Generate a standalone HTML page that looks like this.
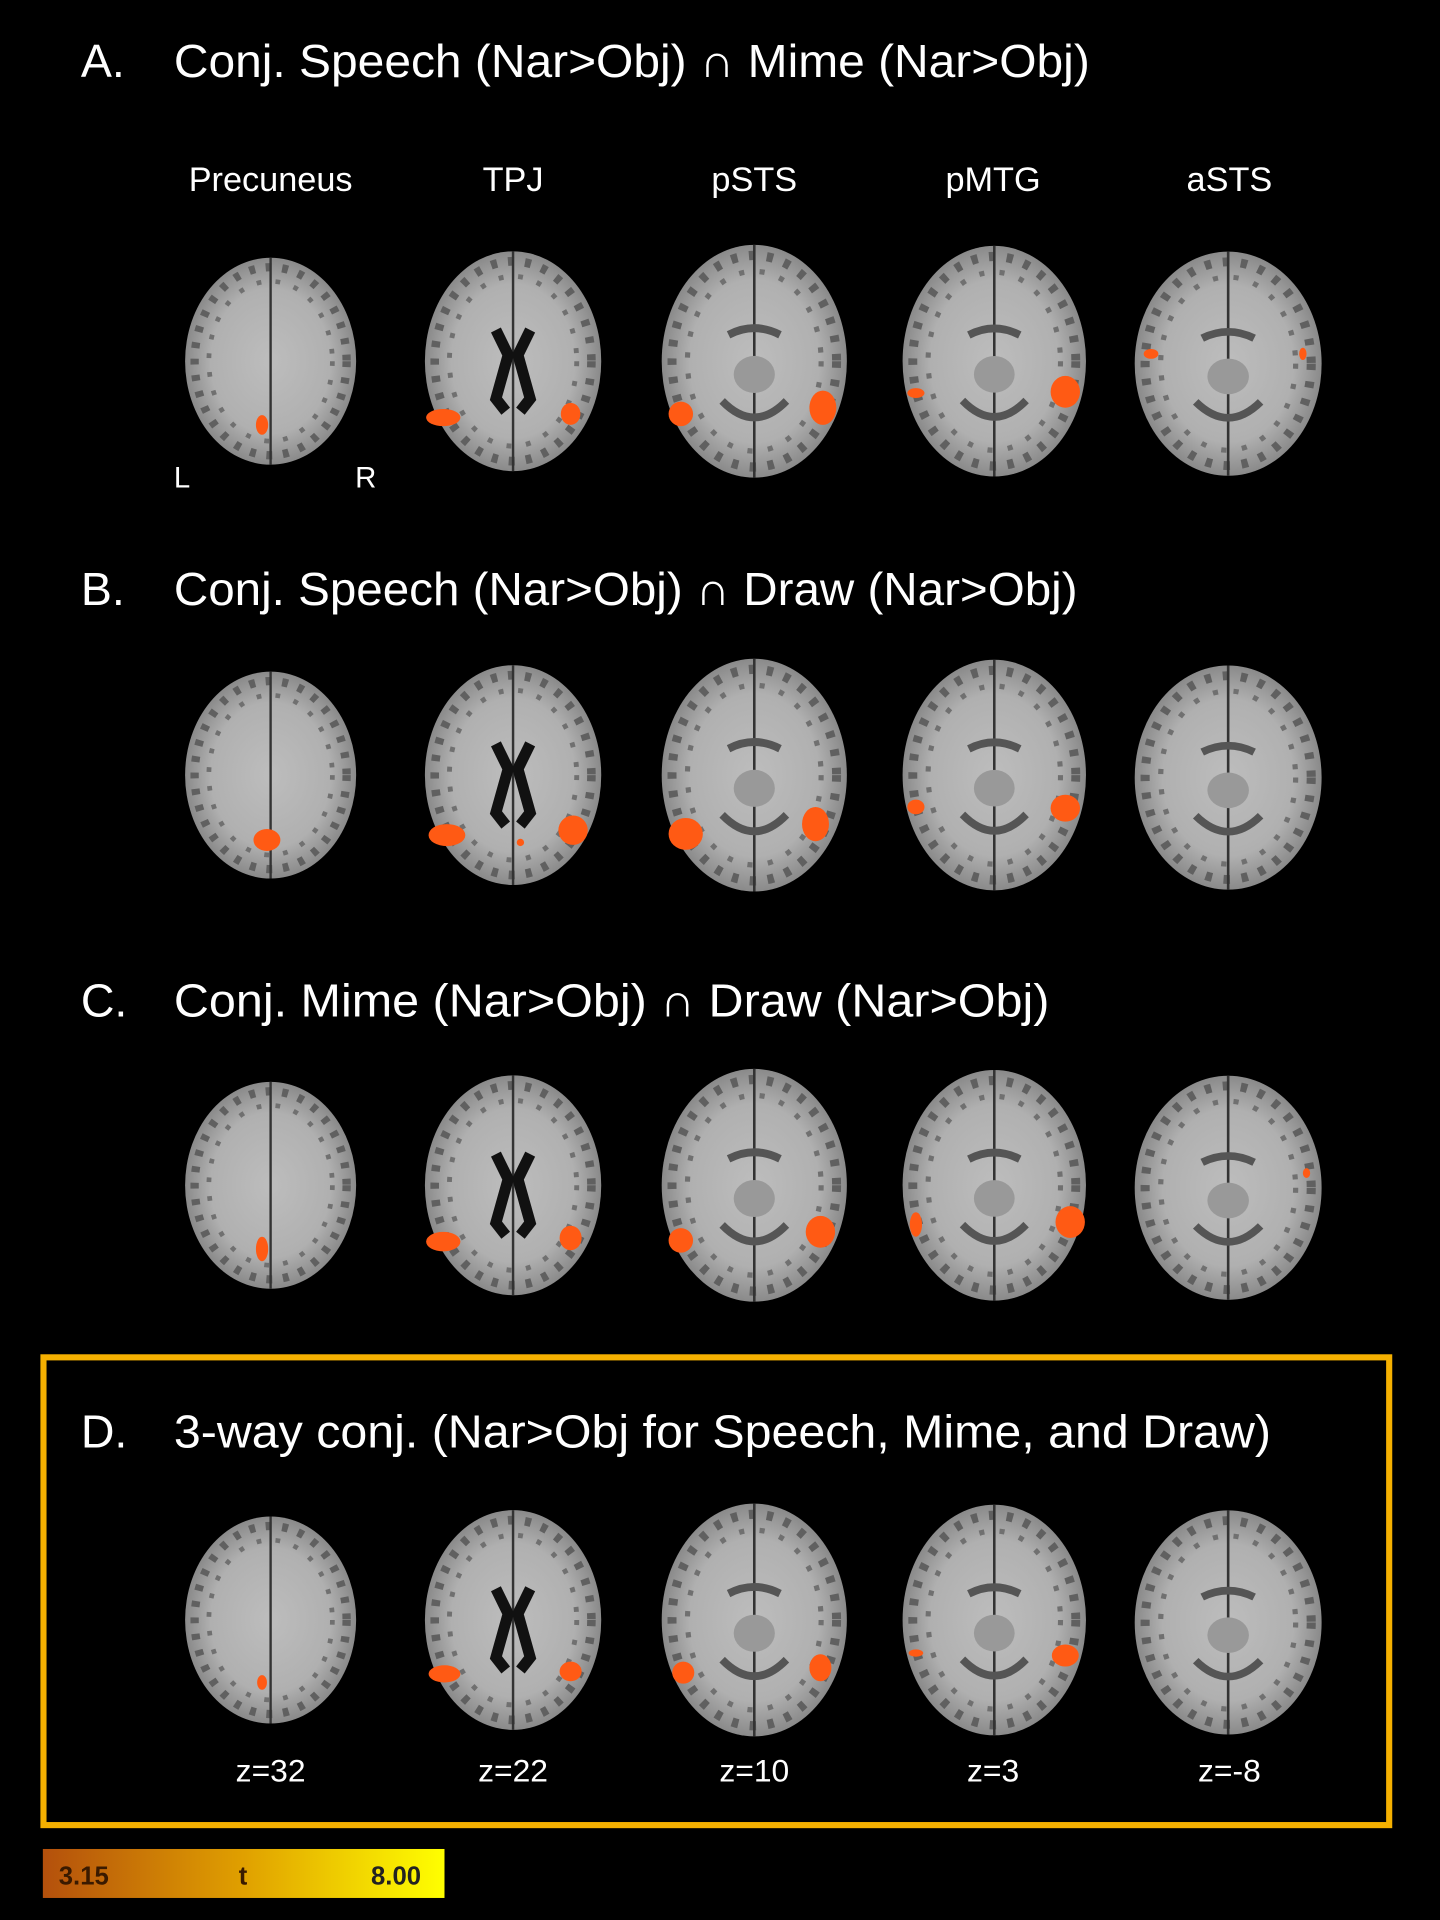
<!DOCTYPE html>
<html><head><meta charset="utf-8"><style>
html,body{margin:0;padding:0;background:#000;}
svg{display:block;}
text{font-family:"Liberation Sans","DejaVu Sans",sans-serif;fill:#fff;}
</style></head><body>
<svg width="1440" height="1920" viewBox="0 0 1176 1568" xmlns="http://www.w3.org/2000/svg">
<defs>
<radialGradient id="bg" cx="50%" cy="50%" r="50%">
<stop offset="0" stop-color="#bdbdbd"/><stop offset="0.7" stop-color="#b0b0b0"/><stop offset="1" stop-color="#8a8a8a"/>
</radialGradient>
<linearGradient id="cb" x1="0" x2="1" y1="0" y2="0">
<stop offset="0" stop-color="#b4500c"/><stop offset="0.5" stop-color="#e0a000"/><stop offset="1" stop-color="#ffff00"/>
</linearGradient>
<g id="brain">
<ellipse cx="0" cy="0" rx="72" ry="88" fill="url(#bg)"/>
<ellipse cx="0" cy="0" rx="64" ry="80" fill="none" stroke="#606060" stroke-width="7" stroke-dasharray="5 9"/>
<ellipse cx="0" cy="0" rx="52" ry="68" fill="none" stroke="#707070" stroke-width="4" stroke-dasharray="4 12"/>
<line x1="0" y1="-88" x2="0" y2="88" stroke="#333" stroke-width="2"/>
</g>
<g id="vent"><path d="M-14,-25 L-4,-5 L-14,30 L-6,40 M14,-25 L4,-5 L14,30 L6,40" stroke="#111" stroke-width="9" fill="none"/></g>
<g id="mid"><path d="M-20,-20 Q0,-30 20,-20 M-25,30 Q0,55 25,30" stroke="#555" stroke-width="6" fill="none"/><ellipse cx="0" cy="10" rx="16" ry="14" fill="#999"/></g>
</defs>

<text x="66" y="63" font-size="38">A.</text>
<text x="142" y="63" font-size="38" textLength="748" lengthAdjust="spacingAndGlyphs">Conj. Speech (Nar&gt;Obj) ∩ Mime (Nar&gt;Obj)</text>
<text x="221" y="156" font-size="28" text-anchor="middle">Precuneus</text>
<text x="419" y="156" font-size="28" text-anchor="middle">TPJ</text>
<text x="616" y="156" font-size="28" text-anchor="middle">pSTS</text>
<text x="811" y="156" font-size="28" text-anchor="middle">pMTG</text>
<text x="1004" y="156" font-size="28" text-anchor="middle">aSTS</text>
<text x="142" y="398" font-size="24">L</text>
<text x="290" y="398" font-size="24">R</text>

<text x="66" y="494" font-size="38">B.</text>
<text x="142" y="494" font-size="38" textLength="738" lengthAdjust="spacingAndGlyphs">Conj. Speech (Nar&gt;Obj) ∩ Draw (Nar&gt;Obj)</text>
<text x="66" y="830" font-size="38">C.</text>
<text x="142" y="830" font-size="38" textLength="715" lengthAdjust="spacingAndGlyphs">Conj. Mime (Nar&gt;Obj) ∩ Draw (Nar&gt;Obj)</text>

<rect x="35.5" y="1108.5" width="1099" height="382" fill="none" stroke="#f5b000" stroke-width="5"/>
<text x="66" y="1182" font-size="38">D.</text>
<text x="142" y="1182" font-size="38" textLength="896" lengthAdjust="spacingAndGlyphs">3-way conj. (Nar&gt;Obj for Speech, Mime, and Draw)</text>
<text x="221" y="1455" font-size="26" text-anchor="middle">z=32</text>
<text x="419" y="1455" font-size="26" text-anchor="middle">z=22</text>
<text x="616" y="1455" font-size="26" text-anchor="middle">z=10</text>
<text x="811" y="1455" font-size="26" text-anchor="middle">z=3</text>
<text x="1004" y="1455" font-size="26" text-anchor="middle">z=-8</text>

<g id="rowA">
<use href="#brain" transform="translate(221,295) scale(0.97,0.96)"/>
<g transform="translate(419,295) scale(1,1.02)"><use href="#brain"/><use href="#vent"/></g>
<g transform="translate(616,295) scale(1.05,1.08)"><use href="#brain"/><use href="#mid"/></g>
<g transform="translate(812,295) scale(1.04,1.07)"><use href="#brain"/><use href="#mid"/></g>
<g transform="translate(1003,297) scale(1.06,1.04)"><use href="#brain"/><use href="#mid"/></g>
</g>
<use href="#rowA" transform="translate(0,338)"/>
<use href="#rowA" transform="translate(0,673)"/>
<use href="#rowA" transform="translate(0,1028)"/>

<g fill="#ff5a14">
<ellipse cx="214" cy="347" rx="5" ry="8"/>
<ellipse cx="362" cy="341" rx="14" ry="7"/><ellipse cx="466" cy="338" rx="8" ry="9"/>
<ellipse cx="556" cy="338" rx="10" ry="10"/><ellipse cx="672" cy="333" rx="11" ry="14"/>
<ellipse cx="748" cy="321" rx="7" ry="4"/><ellipse cx="870" cy="320" rx="12" ry="13"/>
<ellipse cx="940" cy="289" rx="6" ry="4"/><ellipse cx="1064" cy="289" rx="3" ry="5"/>

<ellipse cx="218" cy="686" rx="11" ry="9"/>
<ellipse cx="365" cy="682" rx="15" ry="9"/><ellipse cx="468" cy="678" rx="12" ry="12"/><ellipse cx="425" cy="688" rx="3" ry="3"/>
<ellipse cx="560" cy="681" rx="14" ry="13"/><ellipse cx="666" cy="673" rx="11" ry="14"/>
<ellipse cx="748" cy="659" rx="7" ry="6"/><ellipse cx="870" cy="660" rx="12" ry="11"/>

<ellipse cx="214" cy="1020" rx="5" ry="10"/>
<ellipse cx="362" cy="1014" rx="14" ry="8"/><ellipse cx="466" cy="1011" rx="9" ry="10"/>
<ellipse cx="556" cy="1013" rx="10" ry="10"/><ellipse cx="670" cy="1006" rx="12" ry="13"/>
<ellipse cx="748" cy="1000" rx="5" ry="10"/><ellipse cx="874" cy="998" rx="12" ry="13"/>
<ellipse cx="1067" cy="958" rx="3" ry="4"/>

<ellipse cx="214" cy="1374" rx="4" ry="6"/>
<ellipse cx="363" cy="1367" rx="13" ry="7"/><ellipse cx="466" cy="1365" rx="9" ry="8"/>
<ellipse cx="558" cy="1366" rx="9" ry="9"/><ellipse cx="670" cy="1362" rx="9" ry="11"/>
<ellipse cx="748" cy="1350" rx="6" ry="3"/><ellipse cx="870" cy="1352" rx="11" ry="9"/>
</g>

<rect x="35" y="1510" width="328" height="40" fill="url(#cb)"/>
<text x="48" y="1539" font-size="21" font-weight="bold" style="fill:#3a1a00">3.15</text>
<text x="195" y="1539" font-size="21" font-weight="bold" style="fill:#3a1a00">t</text>
<text x="303" y="1539" font-size="21" font-weight="bold" style="fill:#222">8.00</text>
</svg>
</body></html>
